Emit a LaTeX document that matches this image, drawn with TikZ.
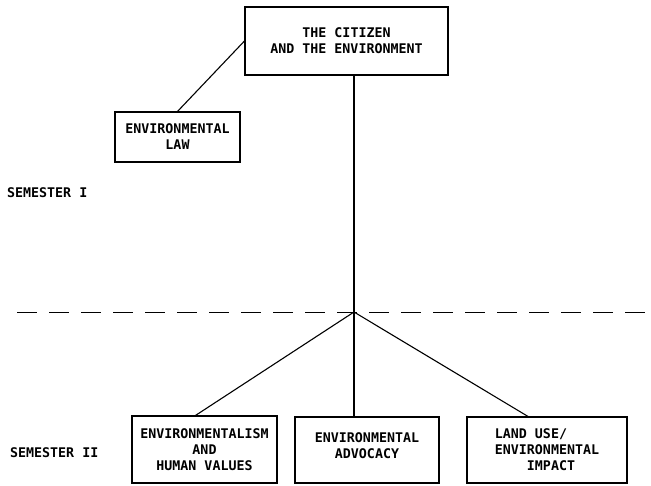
\documentclass[tikz,border=0pt]{standalone}
\usepackage{fontspec}
\setmonofont{DejaVu Sans Mono}
\usetikzlibrary{calc}

\begin{document}
\begin{tikzpicture}[x=1pt, y=-1pt,
    course/.style={draw, line width=1.1pt, inner sep=0pt, align=center,
        font=\ttfamily\bfseries\fontsize{13.3}{16}\selectfont},
    term/.style={anchor=west, inner sep=0pt,
        font=\ttfamily\bfseries\fontsize{13.3}{16}\selectfont},
    link/.style={line width=1.1pt}]
    % Frame
    \useasboundingbox (0,0) rectangle (651,485);

    % Top course and law course
    \node[course, minimum width=203, minimum height=68] (citizen) at (346.5,41)
        {THE CITIZEN\\AND THE ENVIRONMENT};
    \node[course, minimum width=125, minimum height=50] (law) at (177.5,137)
        {ENVIRONMENTAL\\LAW};

    % Semester labels
    \node[term] (sem1) at (7,193) {SEMESTER I};
    \node[term] (sem2) at (10,453) {SEMESTER II};

    % Semester II courses
    \node[course, minimum width=145, minimum height=67] (values) at (204.5,449.5)
        {ENVIRONMENTALISM\\AND\\HUMAN VALUES};
    \node[course, minimum width=144, minimum height=66] (advocacy) at (367,450)
        {ENVIRONMENTAL\\ADVOCACY\\[-8pt]};
    \node[course, minimum width=160, minimum height=66, align=left] (landuse) at (547,450)
        {LAND USE/\\ENVIRONMENTAL\\\phantom{XXXX}IMPACT};

    % Semester divide
    \coordinate (hub) at (354,312);
    \coordinate (dashL) at (17,312);
    \coordinate (dashR) at (651,312);
    \draw[line width=1pt, dash pattern=on 20pt off 12pt] (dashL) -- (dashR);

    % Connectors
    \draw[link] (citizen.west) -- (law.north);
    \draw[link] (citizen.south -| hub) -- (hub);
    \draw[link] (hub) -- ([xshift=-9pt]values.north);
    \draw[link] (hub) -- (hub |- advocacy.north);
    \draw[link] (hub) -- ([xshift=-19pt]landuse.north);
\end{tikzpicture}
\end{document}
